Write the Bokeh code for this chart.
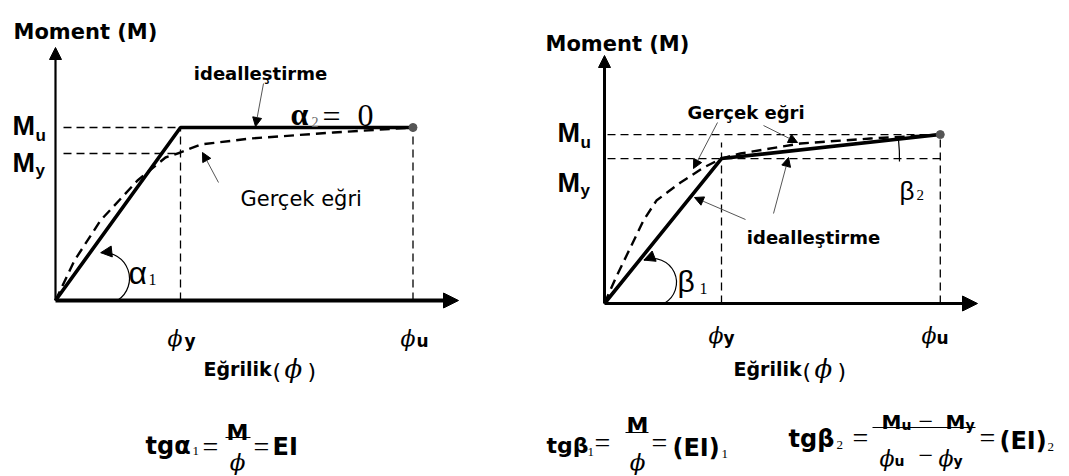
import math
from bokeh.plotting import figure
from bokeh.layouts import row
from bokeh.models import Range1d, Arrow, NormalHead
from bokeh.core.properties import value
from bokeh.embed import file_html
from bokeh.resources import INLINE

# ---------------- data (schematic units) ----------------
# Left panel: ideal elasto-plastic idealisation
phi_ideal_left = [0.0, 1.0, 2.86]          # 0, phi_y, phi_u
M_ideal_left = [0.0, 1.384, 1.384]         # 0, M_u, M_u
phi_real_left = [0.0, 0.152, 0.36, 0.656, 0.88, 1.0, 1.16, 1.56, 2.224, 2.86]
M_real_left = [0.0, 0.32, 0.64, 0.96, 1.144, 1.184, 1.248, 1.296, 1.344, 1.384]
My_left, Mu_left = 1.176, 1.384
phiy_left, phiu_left = 1.0, 2.86

# Right panel: bilinear idealisation with hardening
phi_ideal_right = [0.0, 1.0, 2.87]
M_ideal_right = [0.0, 1.239, 1.444]
phi_real_right = [0.0, 0.094, 0.197, 0.333, 0.444, 0.65, 0.846, 1.0, 1.162, 1.675, 2.274, 2.87]
M_real_right = [0.0, 0.214, 0.427, 0.709, 0.880, 1.034, 1.162, 1.239, 1.282, 1.368, 1.410, 1.444]
My_right, Mu_right = 1.239, 1.444
phiy_right, phiu_right = 1.0, 2.87

SANS = "DejaVu Sans"
ARIAL = "Liberation Sans"
SERIF = "Liberation Serif"
PHIF = "DejaVu Serif"
PHI = "\u03d5"


class Panel:
    def __init__(self, left, width, ox, oy, s, top=0, height=476):
        self.ox, self.oy, self.s = ox, oy, s
        x0 = (left - ox) / s
        x1 = (left + width - ox) / s
        y1 = (oy - top) / s
        y0 = (oy - (top + height)) / s
        p = figure(width=width, height=height, x_range=Range1d(x0, x1), y_range=Range1d(y0, y1),
                   output_backend="svg", toolbar_location=None, min_border=0,
                   x_axis_location=None, y_axis_location=None)
        p.grid.visible = False
        p.outline_line_color = None
        p.background_fill_color = "white"
        p.border_fill_color = "white"
        self.p = p

    def X(self, px):
        return (px - self.ox) / self.s

    def Y(self, py):
        return (self.oy - py) / self.s

    def txt(self, px, py, s, size, font=SANS, style="normal", align="left",
            baseline="alphabetic", color="black"):
        self.p.text(x=[self.X(px)], y=[self.Y(py)], text=[s], text_font=value(font),
                    text_font_size=f"{size}px", text_font_style=style, text_align=align,
                    text_baseline=baseline, text_color=color)

    def arrow_px(self, x0, y0, x1, y1, lw=1.0, color="#555555", head=9):
        self.p.add_layout(Arrow(end=NormalHead(size=head, fill_color="black", line_color="black",
                                               line_width=1),
                                x_start=self.X(x0), y_start=self.Y(y0),
                                x_end=self.X(x1), y_end=self.Y(y1),
                                line_width=lw, line_color=color))

    def axis_arrow(self, x1, y1, lw, head):
        self.p.add_layout(Arrow(end=NormalHead(size=head, fill_color="black", line_color="black",
                                               line_width=1),
                                x_start=0, y_start=0, x_end=x1, y_end=y1,
                                line_width=lw, line_color="black"))

    def angle_arc(self, cx, cy, r, a0, a1, lw=1.2, with_head=True):
        self.p.arc(x=[self.X(cx)], y=[self.Y(cy)], radius=r / self.s,
                   start_angle=math.radians(a0), end_angle=math.radians(a1),
                   direction="anticlock", line_color="black", line_width=lw)
        if with_head:
            t = math.radians(a1)
            ex, ey = cx + r * math.cos(t), cy - r * math.sin(t)
            tx, ty = -math.sin(t), -math.cos(t)  # px direction of CCW tangent
            self.arrow_px(ex - 4 * tx, ey - 4 * ty, ex, ey, lw=lw, color="black", head=11)


DASH = "8 5"

# ======================= LEFT PANEL =======================
L = Panel(left=0, width=530, ox=55, oy=300, s=125)
p = L.p
# guide lines
p.line([L.X(63), phiy_left], [Mu_left, Mu_left], line_color="black", line_width=1.3, line_dash=DASH)
p.line([L.X(63), phiy_left], [My_left, My_left], line_color="black", line_width=1.3, line_dash=DASH)
p.line([phiy_left, phiy_left], [0, Mu_left], line_color="black", line_width=1.3, line_dash=DASH)
p.line([phiu_left, phiu_left], [0, Mu_left], line_color="black", line_width=1.3, line_dash=DASH)
# axes
L.axis_arrow(L.X(458), 0, 4, 15)
L.axis_arrow(0, L.Y(47), 2.2, 12)
# curves
p.line(phi_real_left, M_real_left, line_color="black", line_width=2.4, line_dash="10 6")
p.line(phi_ideal_left, M_ideal_left, line_color="black", line_width=3.6)
p.scatter([phiu_left], [Mu_left], size=8, color="#555555")
# texts
L.txt(13, 31, "Moment (M)", 21, style="bold")
L.txt(12, 125, "M", 27, font=ARIAL, style="bold")
L.txt(35, 135, "u", 17, font=ARIAL, style="bold")
L.txt(12, 162, "M", 27, font=ARIAL, style="bold")
L.txt(35, 170, "y", 17, font=ARIAL, style="bold")
L.txt(260, 73, "idealleştirme", 18, style="bold", align="center")
L.arrow_px(263, 83, 255, 126)
L.txt(290, 113, "α", 32, font=SERIF, style="bold")
L.txt(311, 121, "2", 14, font=SERIF, color="#666666")
L.txt(322, 115, "=", 32, font=SERIF)
L.txt(357, 115, "0", 32, font=SERIF)
L.txt(240, 198, "Gerçek eğri", 21)
L.arrow_px(218, 182, 202, 152)
L.angle_arc(103, 278, 26, -56, 96)
L.txt(128, 272, "α", 32, font=ARIAL)
L.txt(148, 279, "1", 16, font=SERIF)
L.txt(167, 338, PHI, 22, font=PHIF, style="italic")
L.txt(184, 340, "y", 17, style="bold")
L.txt(400, 338, PHI, 22, font=PHIF, style="italic")
L.txt(416, 340, "u", 17, style="bold")
L.txt(203, 368, "Eğrilik", 19, style="bold")
L.txt(272, 371, "(", 22)
L.txt(284, 368, PHI, 26, font=PHIF, style="italic")
L.txt(307, 371, ")", 22)
# formula
L.txt(145, 445, "tgα", 24, style="bold")
L.txt(192, 450, "1", 13, font=SERIF)
L.txt(202, 446, "=", 28, font=SERIF)
L.txt(237, 432, "M", 22, style="bold", align="center")
p.line([L.X(225), L.X(250)], [L.Y(437), L.Y(437)], line_color="black", line_width=1.2)
L.txt(237, 461, PHI, 23, font=PHIF, style="italic", align="center")
L.txt(253, 446, "=", 28, font=SERIF)
L.txt(272, 446, "EI", 24, style="bold")

# ======================= RIGHT PANEL =======================
R = Panel(left=530, width=539, ox=604, oy=303, s=117)
q = R.p
q.line([R.X(607), phiu_right], [Mu_right, Mu_right], line_color="black", line_width=1.3, line_dash=DASH)
q.line([R.X(607), R.X(944)], [My_right, My_right], line_color="black", line_width=1.3, line_dash=DASH)
q.line([phiy_right, phiy_right], [0, R.Y(142)], line_color="black", line_width=1.3, line_dash=DASH)
q.line([phiu_right, phiu_right], [0, Mu_right], line_color="black", line_width=1.3, line_dash=DASH)
R.axis_arrow(R.X(977), 0, 3.2, 15)
R.axis_arrow(0, R.Y(55), 3, 12)
q.line(phi_real_right, M_real_right, line_color="black", line_width=2.4, line_dash="10 6")
q.line(phi_ideal_right, M_ideal_right, line_color="black", line_width=3.6)
q.scatter([phiu_right], [Mu_right], size=8, color="#555555")
R.txt(545, 43, "Moment (M)", 21, style="bold")
R.txt(557, 132, "M", 27, font=ARIAL, style="bold")
R.txt(580, 142, "u", 17, font=ARIAL, style="bold")
R.txt(557, 182, "M", 27, font=ARIAL, style="bold")
R.txt(580, 190, "y", 17, font=ARIAL, style="bold")
R.txt(687, 112, "Gerçek eğri", 18, style="bold")
R.arrow_px(717, 122, 693, 168)
R.arrow_px(763, 125, 797, 142)
R.txt(813, 237, "idealleştirme", 18, style="bold", align="center")
R.arrow_px(745, 219, 694, 197)
R.arrow_px(773, 213, 788, 157)
R.angle_arc(652, 282, 24, -61, 111)
R.txt(677, 281, "β", 30, font=ARIAL)
R.txt(699, 288, "1", 16, font=SERIF)
R.angle_arc(721, 158, 178, -1, 6, with_head=False)
R.txt(899, 190, "β", 26, font=ARIAL)
R.txt(916, 194, "2", 15, font=SERIF)
R.txt(708, 335, PHI, 22, font=PHIF, style="italic")
R.txt(723, 337, "y", 17, style="bold")
R.txt(921, 335, PHI, 22, font=PHIF, style="italic")
R.txt(936, 337, "u", 17, style="bold")
R.txt(733, 368, "Eğrilik", 19, style="bold")
R.txt(802, 371, "(", 22)
R.txt(814, 368, PHI, 26, font=PHIF, style="italic")
R.txt(837, 371, ")", 22)
# formula 1
R.txt(546, 445, "tgβ", 22, style="bold")
R.txt(587, 451, "1", 13, font=SERIF)
R.txt(594, 442, "=", 28, font=SERIF)
R.txt(637, 425, "M", 22, style="bold", align="center")
q.line([R.X(625), R.X(648)], [R.Y(432), R.Y(432)], line_color="black", line_width=1.2)
R.txt(637, 461, PHI, 23, font=PHIF, style="italic", align="center")
R.txt(651, 442, "=", 28, font=SERIF)
R.txt(672, 447, "(EI)", 24, style="bold")
R.txt(721, 453, "1", 13, font=SERIF)
# formula 2
R.txt(788, 438, "tgβ", 24, style="bold")
R.txt(836, 444, "2", 13, font=SERIF)
R.txt(852, 437, "=", 28, font=SERIF)
R.txt(881, 421, "M", 20, style="bold")
R.txt(901, 424, "u", 14, style="bold")
R.txt(918, 421, "\u2212", 26, font=SERIF)
R.txt(945, 421, "M", 20, style="bold")
R.txt(965, 424, "y", 14, style="bold")
q.line([R.X(872), R.X(975)], [R.Y(427), R.Y(427)], line_color="black", line_width=1.2)
R.txt(879, 458, PHI, 22, font=PHIF, style="italic")
R.txt(894, 460, "u", 14, style="bold")
R.txt(918, 455, "\u2212", 26, font=SERIF)
R.txt(938, 458, PHI, 22, font=PHIF, style="italic")
R.txt(953, 460, "y", 14, style="bold")
R.txt(979, 437, "=", 28, font=SERIF)
R.txt(999, 440, "(EI)", 24, style="bold")
R.txt(1047, 446, "2", 13, font=SERIF)

layout = row(L.p, R.p)
open("out.html", "w").write(file_html(layout, INLINE))
